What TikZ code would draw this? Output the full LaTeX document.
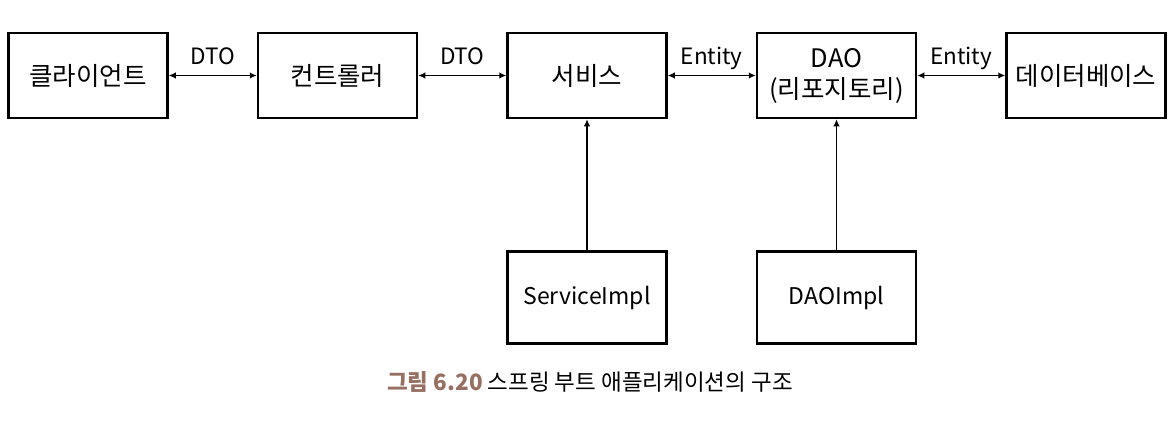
\documentclass[tikz,border=0pt]{standalone}
\usepackage{fontspec}
\setmainfont{Noto Sans CJK KR}
\usepackage{tikz}
\usetikzlibrary{arrows.meta}
\usetikzlibrary{positioning}
\usepackage{xcolor}
\definecolor{capbrown}{RGB}{150,112,98}
\tikzset{
box/.style={draw,
  line width=2.5pt,
    minimum width=159pt,
    minimum height=85pt,
    font=\fontsize{25.5}{31}\selectfont,
    align=center},
implbox/.style={box,
    minimum height=92pt,
    font=\fontsize{23}{28}\selectfont},
link/.style={line width=1.5pt,
  {Latex[length=7pt,width=6.5pt]}-{Latex[length=7pt,width=6.5pt]}},
uplink/.style={line width=1.5pt,
  -{Latex[length=7pt,width=6.5pt]}},
lbl/.style={above=7pt,
  text depth=0pt,
  font=\fontsize{22.5}{26}\selectfont},
}

\begin{document}
\begin{tikzpicture}
  \useasboundingbox (0pt,0pt) rectangle (1171pt,-426pt);

  % Nodes
  \node [box] (client) at (88pt,-75.5pt) {클라이언트};
  \node [box, right=88pt of client] (ctrl) {컨트롤러};
  \node [box, right=88pt of ctrl] (serv) {서비스};
  \node [box, right=88pt of serv] (dao) {DAO\\(리포지토리)};
  \node [box, right=88pt of dao] (db) {데이터베이스};
  \node [implbox, below=131pt of serv] (servimpl) {ServiceImpl};
  \node [implbox, below=131pt of dao] (daoimpl) {DAOImpl};

  % Edges
  \draw [link] (client.east) -- (ctrl.west) node [midway,lbl] {DTO};
  \draw [link] (ctrl.east) -- (serv.west) node [midway,lbl] {DTO};
  \draw [link] (serv.east) -- (dao.west) node [midway,lbl] {Entity};
  \draw [link] (dao.east) -- (db.west) node [midway,lbl] {Entity};
  \draw [uplink] (servimpl.north) -- (serv.south);
  \draw [uplink] (daoimpl.north) -- (dao.south);

  % caption
  \node [font=\fontsize{22.5}{26}\selectfont] (caption) at (590pt,-382pt)
    {\textcolor{capbrown}{\textbf{그림 6.20}} 스프링 부트 애플리케이션의 구조};
\end{tikzpicture}
\end{document}
